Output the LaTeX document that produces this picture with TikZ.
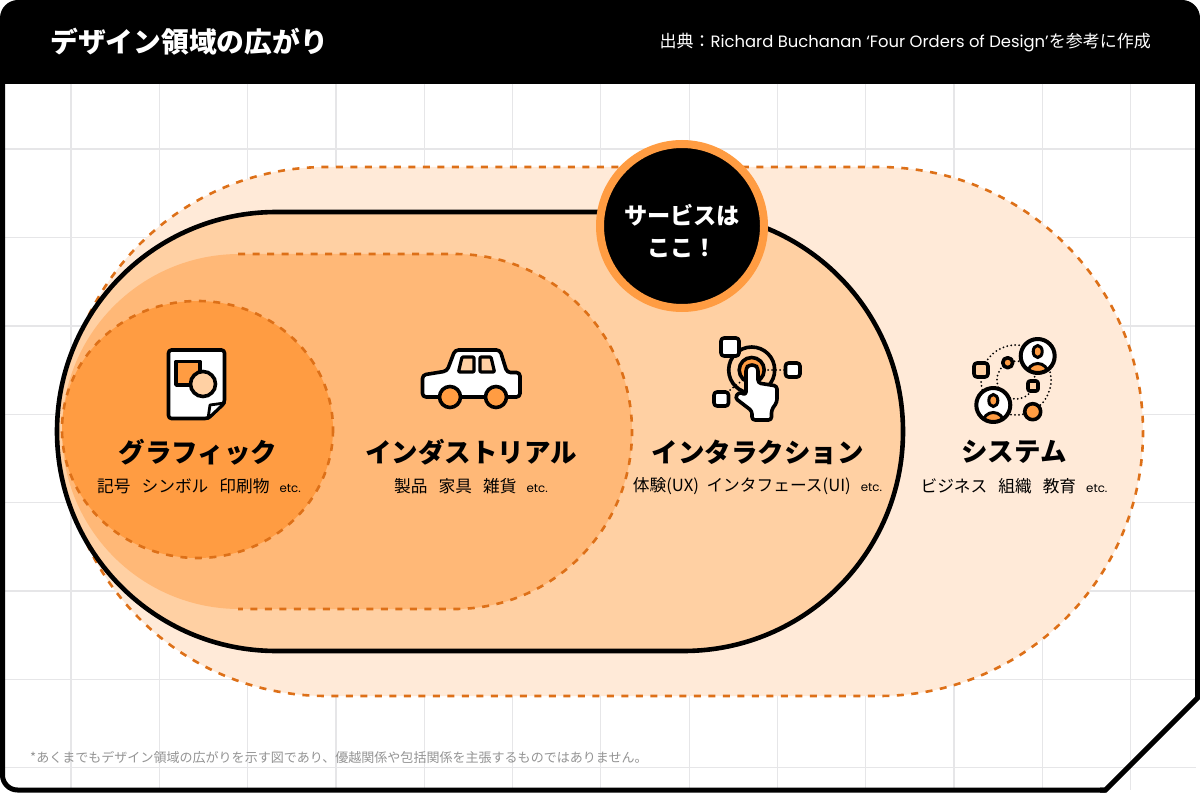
\documentclass[tikz,border=0pt]{standalone}
\usepackage{fontspec}
\setmainfont{Noto Sans CJK JP}
\newfontfamily\latinfont{Poppins}
\definecolor{pale}{HTML}{FFEAD8}
\definecolor{mid}{HTML}{FFD0A3}
\definecolor{deep}{HTML}{FFB877}
\definecolor{core}{HTML}{FF9C42}
\definecolor{dash}{HTML}{DD7018}
\definecolor{gridc}{HTML}{E6E6E8}
\tikzset{
  x=1pt,y=-1pt,
  dashline/.style={draw=dash,line width=2.6pt,dash pattern=on 7pt off 7.5pt},
  ico/.style={draw=black,line width=3.6pt,line join=round},
  dots/.style={draw=black,line width=2pt,line cap=round,dash pattern=on 0pt off 4pt},
  head/.style={font=\fontsize{26.5}{30}\selectfont\bfseries,inner sep=0pt,anchor=center},
  sub/.style={font=\fontsize{16.7}{20}\selectfont,inner sep=0pt,anchor=center},
}
\newcommand{\etc}{\hspace{0.6em}{\latinfont\fontsize{11.8}{14}\selectfont etc.}}
\newcommand{\personicon}[2]{%
  \begin{scope}[shift={(#1,#2)}]
    \fill[white] (0,0) circle (17);
    \begin{scope}
      \clip (0,0) circle (17);
      \draw[black,line width=3pt,fill=core] (0,18) circle (10.5);
    \end{scope}
    \draw[black,line width=3pt,fill=core] (0,-4.5) ellipse (4.5 and 6);
    \draw[ico,line width=4pt] (0,0) circle (17);
  \end{scope}}
\begin{document}
\begin{tikzpicture}
\useasboundingbox (0,0) rectangle (1200,794);
\fill[white] (0,0) rectangle (1200,794);
% grid
\foreach \gx in {71,159.3,247.6,335.9,424.2,512.5,600.8,689.1,777.4,865.7,954,1042.3,1130.6}
  \draw[gridc,line width=1.2pt] (\gx,84) -- (\gx,790);
\foreach \gy in {149,237.5,326,414.3,502.6,591,679.3,767.6}
  \draw[gridc,line width=1.2pt] (4,\gy) -- (1196,\gy);
% frame
\fill[black,rounded corners=18pt] (0,100) -- (0,0) -- (1200,0) -- (1200,100) -- cycle;
\fill[white] (5,84) rectangle (1195,100);
\foreach \gx in {71,159.3,247.6,335.9,424.2,512.5,600.8,689.1,777.4,865.7,954,1042.3,1130.6}
  \draw[gridc,line width=1.2pt] (\gx,84) -- (\gx,100);
\draw[black,line width=5pt,line join=miter,rounded corners=15pt] (2.5,60) -- (2.5,790) -- (1105.5,790);
\draw[black,line width=5pt,line join=miter] (1100,790) -- (1105.5,790) -- (1197.5,698) -- (1197.5,60);
% capsules
\path[fill=pale,rounded corners=264.4pt] (62,167) rectangle (1143,696);
\draw[dashline,rounded corners=264.4pt] (62,167) rectangle (1143,696);
\draw[black,line width=4.6pt,fill=mid,rounded corners=219.4pt] (57,212) rectangle (903,651);
\path[fill=deep,rounded corners=177.4pt] (62,254) rectangle (632,609);
\draw[dashline,rounded corners=177.4pt] (238,254) -- (632,254) -- (632,609) -- (238,609);
\draw[dashline,fill=core] (197.5,429.5) ellipse (135.5 and 128.5);
% service badge
\node[circle,draw=core,line width=8pt,fill=black,minimum size=164pt,inner sep=0pt] (svc) at (682,226) {};
\node[font=\fontsize{23.2}{32}\selectfont\bfseries,text=white,align=center,inner sep=0pt] (svct) at (682,231) {サービスは\\ここ！};
% header text
\node[font=\fontsize{27.8}{30}\selectfont\bfseries,text=white,anchor=west,inner sep=0pt] (title) at (50,42) {デザイン領域の広がり};
\node[font=\fontsize{17}{20}\selectfont,text=white,anchor=east,inner sep=0pt] (src) at (1151,43) {出典：{\latinfont\fontsize{16.4}{18}\selectfont Richard Buchanan ‘Four Orders of Design’}を参考に作成};
% labels
\node[head] (h1) at (198,452) {グラフィック};
\node[sub] (s1) at (199,486) {記号\hspace{0.66em}シンボル\hspace{0.66em}印刷物\etc};
\node[head] (h2) at (471,452) {インダストリアル};
\node[sub] (s2) at (471,486) {製品\hspace{0.66em}家具\hspace{0.66em}雑貨\etc};
\node[head] (h3) at (757.5,452) {インタラクション};
\node[sub] (s3) at (757.5,486) {体験(UX)\hspace{0.45em}インタフェース(UI)\etc};
\node[head] (h4) at (1014,452) {システム};
\node[sub] (s4) at (1014,486) {ビジネス\hspace{0.66em}組織\hspace{0.66em}教育\etc};
% footnote
\node[font=\fontsize{13.03}{15}\selectfont,text=black!42,anchor=west,inner sep=0pt] (foot) at (30,757) {*あくまでもデザイン領域の広がりを示す図であり、優越関係や包括関係を主張するものではありません。};
% document icon
\draw[ico,fill=white,rounded corners=3pt] (168.5,350) -- (224.5,350) -- (224.5,403) -- (208,418.5) -- (168.5,418.5) -- cycle;
\draw[ico,line width=2.8pt,fill=white,line join=round] (224.5,403) -- (210,405) -- (208,418.5) -- cycle;
\draw[ico,fill=core] (176,361.5) rectangle (200,385);
\draw[ico,fill=mid] (203,384) circle (12.5);
% car icon
\draw[ico,fill=white,rounded corners=3.5pt] (422.5,375) -- (447,371) -- (455,350) -- (500,350) -- (507,372.5) -- (520,372.5) -- (520,397) -- (422.5,397) -- cycle;
\draw[ico,line width=3.2pt,fill=mid,rounded corners=1pt] (462,357) -- (474,357) -- (474,372) -- (458.5,372) -- cycle;
\draw[ico,line width=3.2pt,fill=mid,rounded corners=1pt] (480,357) -- (491,357) -- (494.5,372) -- (480,372) -- cycle;
\draw[ico,fill=core] (450,397) circle (10.5);
\draw[ico,fill=core] (496,397) circle (10.5);
% interaction icon
\draw[ico] (751.7,370) circle (23);
\draw[ico,fill=core] (751.7,370) circle (12.5);
\draw[dots] (768,370) -- (784,370);
\draw[dots] (730,390) -- (743,380);
\draw[ico,fill=white,rounded corners=3pt] (721,338) rectangle (739,356);
\draw[ico,fill=white,rounded corners=3pt] (785.5,363) rectangle (800,377);
\draw[ico,fill=white,rounded corners=3pt] (714,392) rectangle (728.5,406);
\draw[ico,fill=white,rounded corners=3pt] (746,368) -- (749,365) -- (755,365) -- (758,368) -- (758,383) -- (777,386) -- (777,402) -- (771.5,410) -- (771.5,420) -- (752,420) -- (752,411) -- (735,398) -- (739,392) -- (746,395) -- cycle;
% system icon
\draw[dots] (1016,380) circle (35);
\draw[dots] (1016,380) circle (19);
\draw[ico,fill=mid,rounded corners=3pt] (974,363) rectangle (988,377);
\draw[ico,fill=core] (1007.7,362.7) circle (5);
\draw[ico,fill=mid,rounded corners=2pt] (1028,381) rectangle (1038,391);
\draw[ico,fill=core] (1032.7,411.7) circle (8);
\personicon{1037.7}{356}
\personicon{993.3}{405}
\end{tikzpicture}
\end{document}
